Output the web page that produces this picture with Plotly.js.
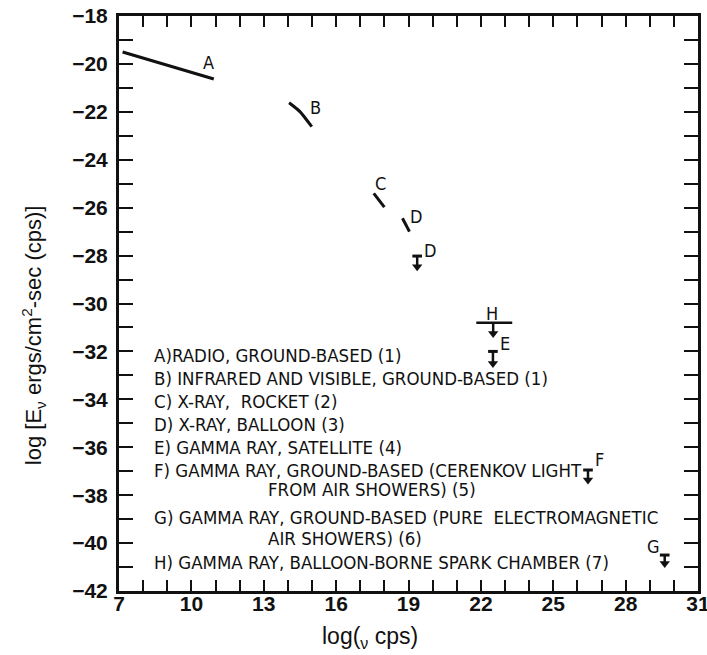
<!DOCTYPE html>
<html>
<head>
<meta charset="utf-8">
<script src="https://cdn.plot.ly/plotly-3.0.1.min.js"></script>
<style>html,body{margin:0;padding:0;background:#fff;}#chart{width:707px;height:655px;}</style>
</head>
<body>
<div id="chart"></div>
<script>
// ---- data ----
const lineA_x = [7.15, 10.93];
const lineA_y = [-19.50, -20.63];
const lineB_x = [14.05, 14.5, 14.99];
const lineB_y = [-21.62, -21.99, -22.62];
const lineC_x = [17.56, 18.0];
const lineC_y = [-25.40, -25.98];
const lineD_x = [18.75, 19.04];
const lineD_y = [-26.44, -27.0];

// upper limits (bar level and arrow tip)
const limX   = [19.36, 22.5, 26.44, 29.62];
const limBar = [-28.02, -32.0, -36.95, -40.5];
const limTip = [-28.67, -32.7, -37.57, -41.05];

// H: horizontal extent and arrow
const lineH_x = [21.81, 23.30];
const lineH_y = [-30.8, -30.8];
const arrowH_x = 22.51;
const arrowH_top = -30.85;
const arrowH_tip = -31.45;

// point labels
const labText = ['A','B','C','D','D','E','F','G','H'];
const labX = [10.7, 15.13, 17.83, 19.32, 19.9, 23.02, 26.9, 29.15, 22.47];
const labY = [-19.96, -21.81, -24.98, -26.38, -27.77, -31.66, -36.53, -40.15, -30.4];

// axis ticks
const xTickVals = [7, 10, 13, 16, 19, 22, 25, 28, 31];

// key text
const keyLines = [
  'A)RADIO, GROUND-BASED (1)',
  'B) INFRARED AND VISIBLE, GROUND-BASED (1)',
  'C) X-RAY,  ROCKET (2)',
  'D) X-RAY, BALLOON (3)',
  'E) GAMMA RAY, SATELLITE (4)',
  'F) GAMMA RAY, GROUND-BASED (CERENKOV LIGHT',
  'FROM AIR SHOWERS) (5)',
  'G) GAMMA RAY, GROUND-BASED (PURE  ELECTROMAGNETIC',
  'AIR SHOWERS) (6)',
  'H) GAMMA RAY, BALLOON-BORNE SPARK CHAMBER (7)'
];
const keyIndent = [0,0,0,0,0,0,1,0,1,0];

// ---- build ----
const black = '#111';
const lw = 3;
const traces = [];
function seg(x, y, w) {
  traces.push({x: x, y: y, mode: 'lines', line: {color: black, width: w || lw, shape: 'spline', smoothing: 0.6}, hoverinfo: 'skip', showlegend: false, cliponaxis: false});
}
seg(lineA_x, lineA_y);
seg(lineB_x, lineB_y);
seg(lineC_x, lineC_y);
seg(lineD_x, lineD_y);
seg(lineH_x, lineH_y, 2.5);

const hw = 0.2;
const headOff = 0.2;
for (let i = 0; i < limX.length; i++) {
  seg([limX[i] - hw, limX[i] + hw], [limBar[i], limBar[i]], 3);
  seg([limX[i], limX[i]], [limBar[i], limTip[i] + headOff], 2.5);
  traces.push({x: [limX[i]], y: [limTip[i] + headOff], mode: 'markers',
    marker: {symbol: 'triangle-down', size: 9, color: black, line: {width: 0}}, hoverinfo: 'skip', showlegend: false});
}
seg([arrowH_x, arrowH_x], [arrowH_top, arrowH_tip + headOff], 2.5);
traces.push({x: [arrowH_x], y: [arrowH_tip + headOff], mode: 'markers',
  marker: {symbol: 'triangle-down', size: 9, color: black, line: {width: 0}}, hoverinfo: 'skip', showlegend: false});

const condensed = 'Liberation Sans Narrow, DejaVu Sans Condensed, Arial Narrow, sans-serif';
const annotations = [];
for (let i = 0; i < labText.length; i++) {
  annotations.push({x: labX[i], y: labY[i], xref: 'x', yref: 'y', xanchor: 'center', yanchor: 'middle',
    text: labText[i], showarrow: false, font: {family: condensed, size: 18, color: black}});
}
const keyY = [0.410, 0.370, 0.329, 0.289, 0.250, 0.210, 0.176, 0.127, 0.092, 0.050];
for (let i = 0; i < keyLines.length; i++) {
  annotations.push({x: keyIndent[i] ? 0.254 : 0.057, y: keyY[i], xref: 'paper', yref: 'paper',
    xanchor: 'left', yanchor: 'middle', text: keyLines[i], showarrow: false,
    font: {family: condensed, size: 18.5, color: black}});
}
annotations.push({x: -0.1485, y: 0.445, xref: 'paper', yref: 'paper', textangle: -90,
  xanchor: 'center', yanchor: 'middle',
  text: 'log [E<sub>ν</sub> ergs/cm<sup>2</sup>-sec (cps)]', showarrow: false,
  font: {family: 'Liberation Sans, Arial, sans-serif', size: 22, color: black}});
annotations.push({x: 0.4335, y: -0.08, xref: 'paper', yref: 'paper', xanchor: 'center', yanchor: 'middle',
  text: 'log(<sub>ν</sub> cps)', showarrow: false,
  font: {family: 'Liberation Sans, Arial, sans-serif', size: 23, color: black}});

const tickFont = {family: 'Liberation Sans, Arial, sans-serif', size: 21, color: black, weight: 'bold'};
const layout = {
  width: 707, height: 655,
  margin: {l: 119, r: 9, t: 16, b: 64},
  paper_bgcolor: '#fff', plot_bgcolor: '#fff',
  showlegend: false,
  xaxis: {range: [7, 31], tickmode: 'array', tickvals: xTickVals, ticktext: xTickVals.map(String),
    ticks: 'inside', ticklen: 11, tickwidth: 2, tickcolor: black, ticklabeloverflow: 'allow',
    showline: true, linewidth: 3, linecolor: black, mirror: 'allticks', showgrid: false, zeroline: false,
    tickfont: tickFont, ticklabelstandoff: -8,
    minor: {dtick: 1, tick0: 7, ticks: 'inside', ticklen: 11, tickwidth: 2, tickcolor: black, showgrid: false}},
  yaxis: {range: [-42, -18], tick0: -42, dtick: 2, ticks: 'inside', ticklen: 14, tickwidth: 2, tickcolor: black,
    showline: true, linewidth: 3, linecolor: black, mirror: 'allticks', showgrid: false, zeroline: false,
    tickfont: tickFont, ticklabelstandoff: 4,
    minor: {dtick: 1, ticks: 'inside', ticklen: 14, tickwidth: 2, tickcolor: black, showgrid: false}},
  annotations: annotations
};
Plotly.newPlot('chart', traces, layout, {staticPlot: true, displayModeBar: false});
</script>
</body>
</html>
